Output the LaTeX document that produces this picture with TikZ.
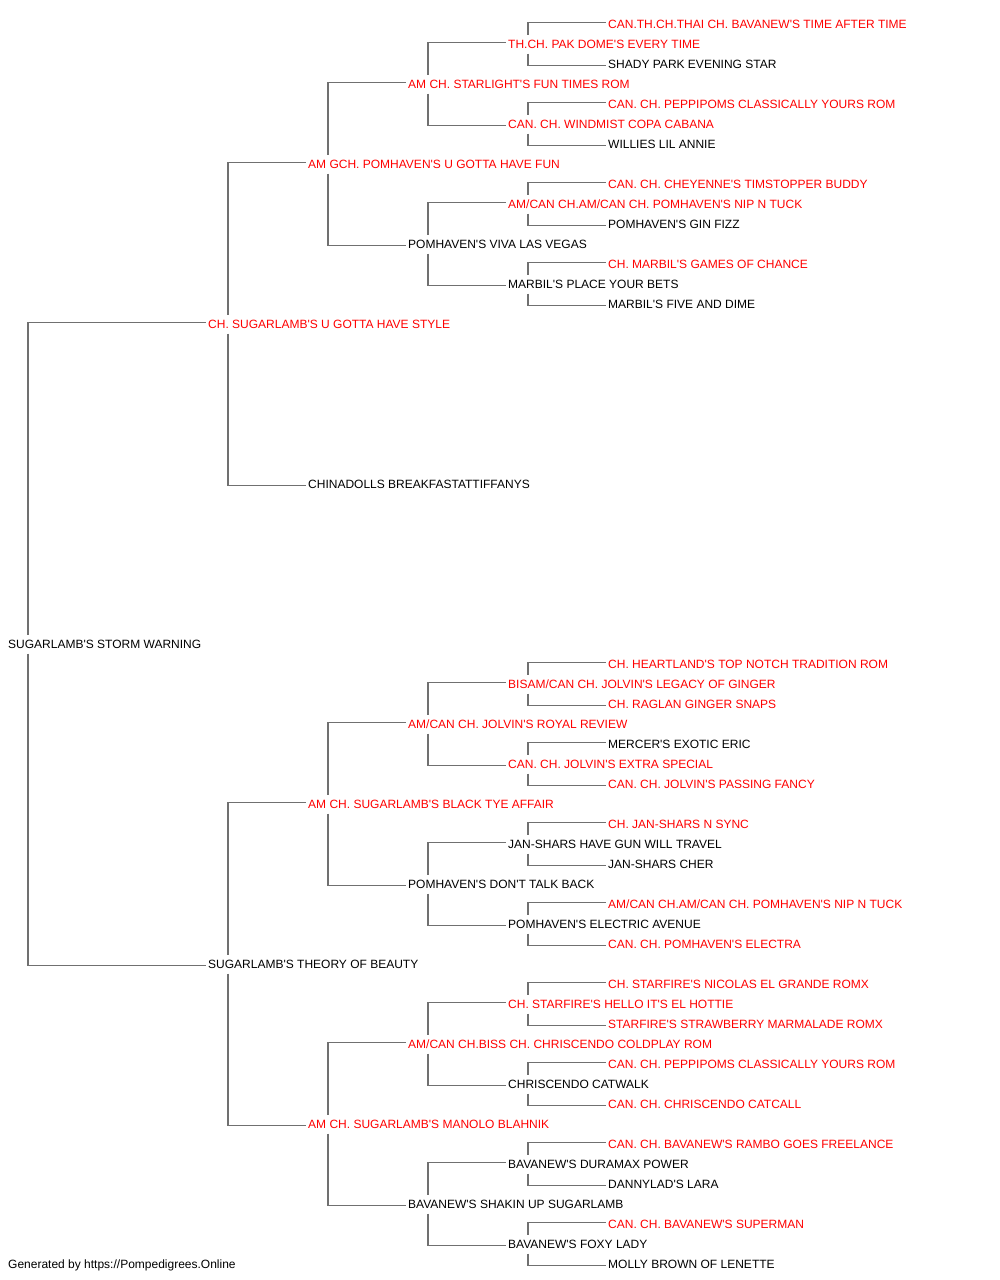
\documentclass[tikz,border=0pt]{standalone}
\usepackage{fontspec}
\newfontfamily\pedfont{Liberation Sans}
\usepackage{tikz}
\usetikzlibrary{calc}
\definecolor{linegray}{HTML}{707070}
\definecolor{champred}{HTML}{FF0000}

\begin{document}
\begin{tikzpicture}[x=1pt, y=-1pt,
  every node/.style={anchor=west, inner sep=0pt, text height=9pt, text depth=0pt, font=\pedfont\fontsize{12}{14}\selectfont},
  champ/.style={text=champred},
  pedline/.style={draw=linegray, line width=1.6pt}]
\useasboundingbox (0,-1) rectangle (1000,1279);
% the dog
\node (p) at (8,643) {SUGARLAMB'S STORM WARNING};
% parents
\node[champ] (ps) at (208,323) {CH. SUGARLAMB'S U GOTTA HAVE STYLE};
\node (pd) at (208,963) {SUGARLAMB'S THEORY OF BEAUTY};
% grandparents
\node[champ] (pss) at (308,163) {AM GCH. POMHAVEN'S U GOTTA HAVE FUN};
\node (psd) at (308,483) {CHINADOLLS BREAKFASTATTIFFANYS};
\node[champ] (pds) at (308,803) {AM CH. SUGARLAMB'S BLACK TYE AFFAIR};
\node[champ] (pdd) at (308,1123) {AM CH. SUGARLAMB'S MANOLO BLAHNIK};
% great-grandparents
\node[champ] (psss) at (408,83) {AM CH. STARLIGHT'S FUN TIMES ROM};
\node (pssd) at (408,243) {POMHAVEN'S VIVA LAS VEGAS};
\node[champ] (pdss) at (408,723) {AM/CAN CH. JOLVIN'S ROYAL REVIEW};
\node (pdsd) at (408,883) {POMHAVEN'S DON'T TALK BACK};
\node[champ] (pdds) at (408,1043) {AM/CAN CH.BISS CH. CHRISCENDO COLDPLAY ROM};
\node (pddd) at (408,1203) {BAVANEW'S SHAKIN UP SUGARLAMB};
% generation 4
\node[champ] (pssss) at (508,43) {TH.CH. PAK DOME'S EVERY TIME};
\node[champ] (psssd) at (508,123) {CAN. CH. WINDMIST COPA CABANA};
\node[champ] (pssds) at (508,203) {AM/CAN CH.AM/CAN CH. POMHAVEN'S NIP N TUCK};
\node (pssdd) at (508,283) {MARBIL'S PLACE YOUR BETS};
\node[champ] (pdsss) at (508,683) {BISAM/CAN CH. JOLVIN'S LEGACY OF GINGER};
\node[champ] (pdssd) at (508,763) {CAN. CH. JOLVIN'S EXTRA SPECIAL};
\node (pdsds) at (508,843) {JAN-SHARS HAVE GUN WILL TRAVEL};
\node (pdsdd) at (508,923) {POMHAVEN'S ELECTRIC AVENUE};
\node[champ] (pddss) at (508,1003) {CH. STARFIRE'S HELLO IT'S EL HOTTIE};
\node (pddsd) at (508,1083) {CHRISCENDO CATWALK};
\node (pddds) at (508,1163) {BAVANEW'S DURAMAX POWER};
\node (pdddd) at (508,1243) {BAVANEW'S FOXY LADY};
% generation 5
\node[champ] (psssss) at (608,23) {CAN.TH.CH.THAI CH. BAVANEW'S TIME AFTER TIME};
\node (pssssd) at (608,63) {SHADY PARK EVENING STAR};
\node[champ] (psssds) at (608,103) {CAN. CH. PEPPIPOMS CLASSICALLY YOURS ROM};
\node (psssdd) at (608,143) {WILLIES LIL ANNIE};
\node[champ] (pssdss) at (608,183) {CAN. CH. CHEYENNE'S TIMSTOPPER BUDDY};
\node (pssdsd) at (608,223) {POMHAVEN'S GIN FIZZ};
\node[champ] (pssdds) at (608,263) {CH. MARBIL'S GAMES OF CHANCE};
\node (pssddd) at (608,303) {MARBIL'S FIVE AND DIME};
\node[champ] (pdssss) at (608,663) {CH. HEARTLAND'S TOP NOTCH TRADITION ROM};
\node[champ] (pdsssd) at (608,703) {CH. RAGLAN GINGER SNAPS};
\node (pdssds) at (608,743) {MERCER'S EXOTIC ERIC};
\node[champ] (pdssdd) at (608,783) {CAN. CH. JOLVIN'S PASSING FANCY};
\node[champ] (pdsdss) at (608,823) {CH. JAN-SHARS N SYNC};
\node (pdsdsd) at (608,863) {JAN-SHARS CHER};
\node[champ] (pdsdds) at (608,903) {AM/CAN CH.AM/CAN CH. POMHAVEN'S NIP N TUCK};
\node[champ] (pdsddd) at (608,943) {CAN. CH. POMHAVEN'S ELECTRA};
\node[champ] (pddsss) at (608,983) {CH. STARFIRE'S NICOLAS EL GRANDE ROMX};
\node[champ] (pddssd) at (608,1023) {STARFIRE'S STRAWBERRY MARMALADE ROMX};
\node[champ] (pddsds) at (608,1063) {CAN. CH. PEPPIPOMS CLASSICALLY YOURS ROM};
\node[champ] (pddsdd) at (608,1103) {CAN. CH. CHRISCENDO CATCALL};
\node[champ] (pdddss) at (608,1143) {CAN. CH. BAVANEW'S RAMBO GOES FREELANCE};
\node (pdddsd) at (608,1183) {DANNYLAD'S LARA};
\node[champ] (pdddds) at (608,1223) {CAN. CH. BAVANEW'S SUPERMAN};
\node (pddddd) at (608,1263) {MOLLY BROWN OF LENETTE};
% footer
\node (credit) at (8,1263) {Generated by https://Pompedigrees.Online};
% sire goes up, dam goes down
\foreach \p in {p, ps, pss, psss, pssss, psssd, pssd, pssds, pssdd, pd, pds, pdss, pdsss, pdssd, pdsd, pdsds, pdsdd, pdd, pdds, pddss, pddsd, pddd, pddds, pdddd} {
  \draw[pedline] ($(\p.west)+(20,-9.5)$) |- ($(\p s.west)+(-2,-1.5)$);
  \draw[pedline] ($(\p.west)+(20,9.5)$) |- ($(\p d.west)+(-2,1.5)$);
}
\end{tikzpicture}
\end{document}
